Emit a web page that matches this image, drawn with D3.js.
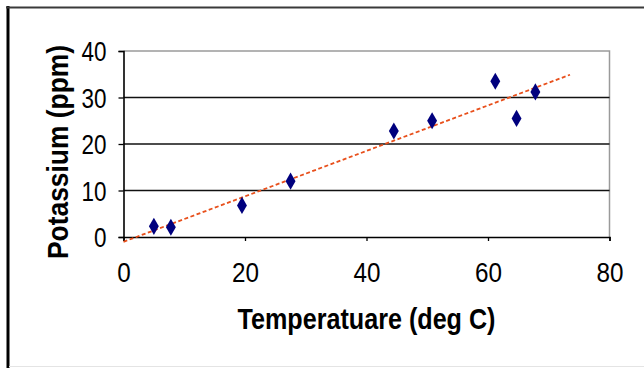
<!DOCTYPE html>
<html>
<head>
<meta charset="utf-8">
<script src="https://cdn.jsdelivr.net/npm/d3@7"></script>
<style>
  body { margin: 0; background: #fff; }
  text { font-family: "Liberation Sans", Arial, sans-serif; }
</style>
</head>
<body>
<div id="chart"></div>
<script>
// Data
const temperature = [5, 7.8, 19.5, 27.5, 44.5, 50.8, 61.2, 64.7, 67.8]
const potassium = [2.3, 2.1, 6.8, 12, 22.8, 25, 33.5, 25.5, 31.2]
const xTicks = [0, 20, 40, 60, 80]
const yTicks = [0, 10, 20, 30, 40]
const trendRange = [0, 73.5]
const xTitle = 'Temperatuare (deg C)'
const yTitle = 'Potassium (ppm)'

// Dimensions
let dimensions = {
  width: 644,
  height: 368,
  left: 123.5,
  right: 609.5,
  top: 51,
  bottom: 237,
}

const svg = d3.select('#chart')
  .append('svg')
  .attr('width', dimensions.width)
  .attr('height', dimensions.height)

// Outer frame
svg.append('line')
  .attr('x1', 8).attr('x2', 8).attr('y1', 6).attr('y2', 368)
  .attr('stroke', '#000').attr('stroke-width', 3)
svg.append('line')
  .attr('x1', 6).attr('x2', 644).attr('y1', 7.5).attr('y2', 7.5)
  .attr('stroke', '#3a3a3a').attr('stroke-width', 2)
svg.append('line')
  .attr('x1', 9).attr('x2', 644).attr('y1', 366.5).attr('y2', 366.5)
  .attr('stroke', '#e4e4e4').attr('stroke-width', 1)

// Scales
const x = d3.scaleLinear().domain([0, 80]).range([dimensions.left, dimensions.right])
const y = d3.scaleLinear().domain([0, 40]).range([dimensions.bottom, dimensions.top])

// Plot border (gray)
svg.append('path')
  .attr('d', `M${x(0)},${y(40)}H${x(80)}V${y(0)}`)
  .attr('fill', 'none')
  .attr('stroke', '#9a9a9a')
  .attr('stroke-width', 1.5)

// Gridlines
svg.append('g')
  .selectAll('line')
  .data(yTicks.filter(d => d > 0 && d < 40))
  .join('line')
  .attr('x1', x(0)).attr('x2', x(80))
  .attr('y1', d => y(d)).attr('y2', d => y(d))
  .attr('stroke', '#111')
  .attr('stroke-width', 1.6)

// Axes
const xAxis = svg.append('g')
  .attr('transform', `translate(0, ${y(0)})`)
  .call(d3.axisBottom(x).tickValues(xTicks).tickSize(4))
const yAxis = svg.append('g')
  .attr('transform', `translate(${x(0)}, 0)`)
  .call(d3.axisLeft(y).tickValues(yTicks).tickSize(5).tickPadding(12))

;[xAxis, yAxis].forEach(g => {
  g.select('.domain').attr('stroke', '#000').attr('stroke-width', 1.6)
  g.selectAll('.tick line').attr('stroke', '#000').attr('stroke-width', 1.3)
  g.selectAll('.tick text')
    .attr('fill', '#000')
    .style('font-size', '27px')
    .attr('lengthAdjust', 'spacingAndGlyphs')
})
xAxis.selectAll('.tick text')
  .attr('y', 45)
  .attr('dy', 0)
  .attr('textLength', d => String(d).length * 13.5)
yAxis.selectAll('.tick text')
  .attr('dy', '0.36em')
  .attr('textLength', d => String(d).length * 12.5)

// Trendline (least squares)
const mx = d3.mean(temperature)
const my = d3.mean(potassium)
const sxy = d3.sum(temperature, (t, i) => (t - mx) * (potassium[i] - my))
const sxx = d3.sum(temperature, t => (t - mx) ** 2)
const slope = sxy / sxx
const intercept = my - slope * mx

svg.append('path')
  .datum(trendRange)
  .attr('d', d3.line().x(d => x(d)).y(d => y(intercept + slope * d)))
  .attr('fill', 'none')
  .attr('stroke', '#e8501c')
  .attr('stroke-width', 1.8)
  .attr('stroke-dasharray', '4,2.5')

// Points
svg.append('g')
  .selectAll('path')
  .data(temperature)
  .join('path')
  .attr('transform', (d, i) => `translate(${x(d)}, ${y(potassium[i])})`)
  .attr('d', d3.symbol().type(d3.symbolDiamond).size(85))
  .attr('fill', '#00007e')

// Axis titles
svg.append('text')
  .attr('x', (dimensions.left + dimensions.right) / 2)
  .attr('y', 329)
  .attr('text-anchor', 'middle')
  .attr('textLength', 258)
  .attr('lengthAdjust', 'spacingAndGlyphs')
  .style('font-size', '30px')
  .style('font-weight', 'bold')
  .text(xTitle)

svg.append('text')
  .attr('transform', `translate(68, 152) rotate(-90)`)
  .attr('text-anchor', 'middle')
  .attr('textLength', 214)
  .attr('lengthAdjust', 'spacingAndGlyphs')
  .style('font-size', '30px')
  .style('font-weight', 'bold')
  .text(yTitle)
</script>
</body>
</html>
